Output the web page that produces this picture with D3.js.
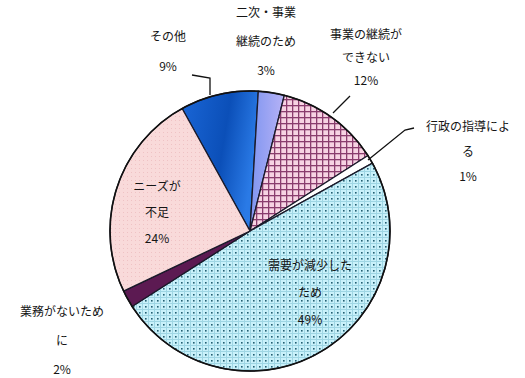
<!DOCTYPE html>
<html>
<head>
<meta charset="utf-8">
<style>
    body { margin: 0; background: #fff; }
    svg { display: block; }
    .lbl { font-family: "Noto Sans CJK JP", "Noto Sans", sans-serif; font-size: 12px; fill: #151515; }
</style>
</head>
<body>
<svg width="525" height="378"></svg>
<script src="https://d3js.org/d3.v7.min.js"></script>
<script>
// data (clockwise from the dark blue slice)
let categories = ["その他", "二次・事業継続のため", "事業の継続ができない", "行政の指導による", "需要が減少したため", "ニーズが不足", "業務がないために"]
let values = [9, 3, 12, 1, 49, 2, 24]
let labelLines = [
    ["その他", "9%"],
    ["二次・事業", "継続のため", "3%"],
    ["事業の継続が", "できない", "12%"],
    ["行政の指導によ", "る", "1%"],
    ["需要が減少した", "ため", "49%"],
    ["ニーズが", "不足", "24%"],
    ["業務がないため", "に", "2%"]
]

let width = 525, height = 378
let cx = 250, cy = 231, r = 140
let svg = d3.select("svg")

// patterns & gradients
let defs = svg.append("defs")

let dots = defs.append("pattern").attr("id", "dots")
    .attr("patternUnits", "userSpaceOnUse").attr("width", 6).attr("height", 6)
dots.append("rect").attr("width", 6).attr("height", 6).attr("fill", "#c9f1fa")
dots.append("rect").attr("width", 6).attr("height", 1).attr("fill", "#9fd6e4")
dots.append("rect").attr("width", 1).attr("height", 6).attr("fill", "#9fd6e4")
dots.append("rect").attr("x", 3).attr("y", 3).attr("width", 1.6).attr("height", 1.6).attr("fill", "#245f72")

let check = defs.append("pattern").attr("id", "check")
    .attr("patternUnits", "userSpaceOnUse").attr("width", 6).attr("height", 6)
check.append("rect").attr("width", 6).attr("height", 6).attr("fill", "#f7d3e3")
check.append("rect").attr("width", 6).attr("height", 1.3).attr("fill", "#8a3d6e")
check.append("rect").attr("width", 1.3).attr("height", 6).attr("fill", "#8a3d6e")

let soft = defs.append("pattern").attr("id", "soft")
    .attr("patternUnits", "userSpaceOnUse").attr("width", 4).attr("height", 4)
soft.append("rect").attr("width", 4).attr("height", 4).attr("fill", "#f9dada")
soft.append("rect").attr("x", 1).attr("y", 1).attr("width", 1).attr("height", 1).attr("fill", "#efc2c4")

let blue = defs.append("linearGradient").attr("id", "blue")
    .attr("x1", "0%").attr("y1", "0%").attr("x2", "100%").attr("y2", "30%")
blue.append("stop").attr("offset", "0%").attr("stop-color", "#1a66d6")
blue.append("stop").attr("offset", "60%").attr("stop-color", "#0b4fb8")
blue.append("stop").attr("offset", "100%").attr("stop-color", "#2a7ae6")

let lav = defs.append("linearGradient").attr("id", "lav")
    .attr("x1", "0%").attr("y1", "0%").attr("x2", "100%").attr("y2", "0%")
lav.append("stop").attr("offset", "0%").attr("stop-color", "#7f95f0")
lav.append("stop").attr("offset", "100%").attr("stop-color", "#b6b2f6")

let fills = ["url(#blue)", "url(#lav)", "url(#check)", "#ffffff", "url(#dots)", "#5c1a52", "url(#soft)"]

let pie = d3.pie().sort(null).value(d => d)
    .startAngle(-29 * Math.PI / 180).endAngle(331 * Math.PI / 180)
let arc = d3.arc().innerRadius(0).outerRadius(r)

let g = svg.append("g").attr("transform", `translate(${cx},${cy})`)

g.selectAll("path")
    .data(pie(values))
    .join("path")
    .attr("d", arc)
    .attr("fill", (d, i) => fills[i])
    .attr("stroke", "#1a1a2a")
    .attr("stroke-width", 1.3)

g.append("circle").attr("r", r).attr("fill", "none")
    .attr("stroke", "#111").attr("stroke-width", 1.6)

// leader lines
let leaders = [
    [[192, 75], [210, 78], [210, 95]],
    [[333, 113], [350, 96]],
    [[368, 160], [405, 130], [414, 128]]
]
svg.selectAll(".leader")
    .data(leaders)
    .join("path")
    .attr("class", "leader")
    .attr("d", d3.line())
    .attr("fill", "none")
    .attr("stroke", "#111")
    .attr("stroke-width", 1.3)

// label layout: x, y of first line, line gap
let labelPos = [
    [168, 38, 30],
    [266, 14, 29],
    [366, 36, 23],
    [468, 128, 25],
    [310, 267, 27],
    [157, 188, 26],
    [62, 313, 29]
]

labelLines.forEach((lines, i) => {
    let p = labelPos[i]
    let t = svg.append("text").attr("class", "lbl")
        .attr("text-anchor", "middle")
    lines.forEach((s, j) => {
        t.append("tspan")
            .attr("x", p[0])
            .attr("y", p[1] + j * p[2])
            .attr("dominant-baseline", "middle")
            .text(s)
    })
})
</script>
</body>
</html>
